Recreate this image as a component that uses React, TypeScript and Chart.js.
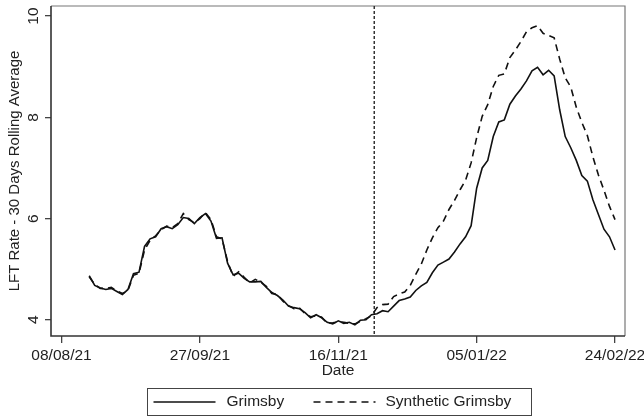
import React, { useEffect, useRef } from 'react';
import { Chart, registerables } from 'chart.js';

Chart.register(...registerables);

// Days are counted from 08/08/21
const seriesStartDay = 10;
const seriesStepDays = 2;

const grimsby = [
  4.87, 4.68, 4.63, 4.60, 4.62, 4.56, 4.50, 4.60, 4.91, 4.94,
  5.45, 5.60, 5.64, 5.80, 5.84, 5.80, 5.88, 6.02, 6.00, 5.90,
  6.02, 6.10, 5.95, 5.61, 5.62, 5.12, 4.89, 4.92, 4.82, 4.75,
  4.75, 4.76, 4.64, 4.54, 4.48, 4.39, 4.27, 4.24, 4.22, 4.14,
  4.04, 4.10, 4.04, 3.95, 3.92, 3.98, 3.93, 3.95, 3.90, 3.99,
  4.00, 4.10, 4.12, 4.18, 4.16, 4.27, 4.38, 4.41, 4.45, 4.58,
  4.67, 4.74, 4.93, 5.08, 5.14, 5.20, 5.34, 5.50, 5.64, 5.86,
  6.60, 7.00, 7.15, 7.62, 7.91, 7.95, 8.26, 8.42, 8.56, 8.72,
  8.92, 8.99, 8.84, 8.93, 8.82, 8.15, 7.62, 7.40, 7.15, 6.85,
  6.74, 6.37, 6.08, 5.79, 5.64, 5.38,
];

const syntheticGrimsby = [
  4.85, 4.70, 4.62, 4.62, 4.64, 4.57, 4.52, 4.58, 4.88, 4.92,
  5.38, 5.57, 5.66, 5.78, 5.85, 5.82, 5.90, 6.10, 5.98, 5.92,
  6.00, 6.12, 5.98, 5.64, 5.60, 5.15, 4.86, 4.95, 4.84, 4.73,
  4.80, 4.74, 4.66, 4.52, 4.50, 4.37, 4.28, 4.22, 4.23, 4.12,
  4.06, 4.08, 4.05, 3.93, 3.94, 3.96, 3.95, 3.93, 3.92, 3.97,
  4.02, 4.08, 4.24, 4.30, 4.31, 4.46, 4.51, 4.55, 4.68, 4.90,
  5.10, 5.38, 5.62, 5.82, 5.95, 6.18, 6.36, 6.57, 6.76, 7.10,
  7.60, 8.02, 8.25, 8.61, 8.83, 8.86, 9.18, 9.33, 9.50, 9.69,
  9.77, 9.81, 9.66, 9.62, 9.57, 9.15, 8.78, 8.60, 8.20, 7.90,
  7.64, 7.22, 6.86, 6.56, 6.24, 5.98,
];

const tickDays = [0, 50, 100, 150, 200];
const tickLabels = ['08/08/21', '27/09/21', '16/11/21', '05/01/22', '24/02/22'];
const yTicks = [4, 6, 8, 10];
const interventionDay = 113;
const seriesLabels = ['Grimsby', 'Synthetic Grimsby'];
const xTitle = 'Date';
const yTitle = 'LFT Rate - 30 Days Rolling Average';

const FONT = "'Liberation Sans', Arial, sans-serif";
const INK = '#222222';
const DASH = [7, 5];

const toPoints = (vals: number[]) =>
  vals.map((v, i) => ({ x: seriesStartDay + i * seriesStepDays, y: v }));

const framePlugin = {
  id: 'frame',
  beforeDatasetsDraw(chart: any) {
    const { ctx, chartArea: a } = chart;
    ctx.save();
    ctx.lineWidth = 1.2;
    ctx.strokeStyle = '#777777';
    ctx.beginPath();
    ctx.moveTo(a.left, a.top);
    ctx.lineTo(a.right, a.top);
    ctx.lineTo(a.right, a.bottom);
    ctx.stroke();
    ctx.lineWidth = 1.6;
    ctx.strokeStyle = '#333333';
    ctx.beginPath();
    ctx.moveTo(a.left, a.top);
    ctx.lineTo(a.left, a.bottom);
    ctx.lineTo(a.right, a.bottom);
    ctx.stroke();
    // intervention line
    const x = chart.scales.x.getPixelForValue(interventionDay);
    ctx.setLineDash([3, 2]);
    ctx.lineWidth = 1.5;
    ctx.strokeStyle = '#333333';
    ctx.beginPath();
    ctx.moveTo(x, a.top);
    ctx.lineTo(x, a.bottom);
    ctx.stroke();
    ctx.restore();
  },
};

const legendPlugin = {
  id: 'boxLegend',
  afterDraw(chart: any) {
    const { ctx, chartArea: a } = chart;
    const cx = (a.left + a.right) / 2;
    const left = Math.round(cx - 191) + 0.5;
    const top = Math.round(a.bottom + 52) + 0.5;
    const w = 384;
    const h = 27;
    const midY = top + 13.5;
    ctx.save();
    ctx.lineWidth = 1;
    ctx.strokeStyle = '#444444';
    ctx.strokeRect(left, top, w, h);
    ctx.font = `15.5px ${FONT}`;
    ctx.fillStyle = INK;
    ctx.textBaseline = 'middle';
    ctx.textAlign = 'left';
    const items = [
      { x0: 6, x1: 68, tx: 79, dash: [] as number[], label: seriesLabels[0] },
      { x0: 166, x1: 228, tx: 238, dash: DASH, label: seriesLabels[1] },
    ];
    items.forEach((it) => {
      ctx.setLineDash(it.dash);
      ctx.lineWidth = 1.6;
      ctx.strokeStyle = '#111111';
      ctx.beginPath();
      ctx.moveTo(left + it.x0, midY);
      ctx.lineTo(left + it.x1, midY);
      ctx.stroke();
      ctx.fillText(it.label, left + it.tx, midY);
    });
    ctx.restore();
  },
};

export default function App() {
  const ref = useRef<HTMLCanvasElement | null>(null);

  useEffect(() => {
    if (!ref.current) return;
    const chart = new Chart(ref.current, {
      type: 'line',
      data: {
        datasets: [
          {
            label: seriesLabels[0],
            data: toPoints(grimsby),
            borderColor: '#111111',
            borderWidth: 1.6,
            pointRadius: 0,
            tension: 0,
            fill: false,
          },
          {
            label: seriesLabels[1],
            data: toPoints(syntheticGrimsby),
            borderColor: '#111111',
            borderWidth: 1.6,
            borderDash: DASH,
            pointRadius: 0,
            tension: 0,
            fill: false,
          },
        ],
      },
      options: {
        animation: false,
        responsive: false,
        layout: { padding: { left: 0, top: 6, right: 19, bottom: 36 } },
        plugins: {
          legend: { display: false },
          tooltip: { enabled: false },
        },
        scales: {
          x: {
            type: 'linear',
            min: -3.8,
            max: 203.6,
            afterBuildTicks: (s: any) => {
              s.ticks = tickDays.map((v) => ({ value: v }));
            },
            afterFit: (s: any) => {
              s.height = 44;
              s.paddingLeft = 0;
              s.paddingRight = 0;
            },
            border: { display: false },
            grid: {
              display: true,
              drawOnChartArea: false,
              drawTicks: true,
              tickLength: 7,
              color: '#444444',
              lineWidth: 1.3,
            },
            ticks: {
              autoSkip: false,
              maxRotation: 0,
              minRotation: 0,
              padding: 3,
              color: INK,
              font: { family: FONT, size: 15.5 },
              callback: (v: any) => {
                const i = tickDays.indexOf(Number(v));
                return i >= 0 ? tickLabels[i] : '';
              },
            },
            title: {
              display: true,
              text: xTitle,
              color: INK,
              font: { family: FONT, size: 15.5 },
              padding: { top: 0, bottom: 0 },
            },
          },
          y: {
            type: 'linear',
            min: 3.68,
            max: 10.2,
            afterBuildTicks: (s: any) => {
              s.ticks = yTicks.map((v) => ({ value: v }));
            },
            afterFit: (s: any) => {
              s.width = 51;
              s.paddingTop = 0;
              s.paddingBottom = 0;
            },
            border: { display: false },
            grid: {
              display: true,
              drawOnChartArea: false,
              drawTicks: true,
              tickLength: 6,
              color: '#444444',
              lineWidth: 1.3,
            },
            ticks: {
              minRotation: 90,
              maxRotation: 90,
              crossAlign: 'center',
              padding: 3,
              color: INK,
              font: { family: FONT, size: 15.5 },
              callback: (v: any) => String(v),
            },
            title: {
              display: true,
              text: yTitle,
              color: INK,
              font: { family: FONT, size: 15 },
              padding: { top: 6, bottom: 0 },
            },
          },
        },
      },
      plugins: [framePlugin, legendPlugin],
    } as any);
    return () => chart.destroy();
  }, []);

  return (
    <div style={{ position: 'absolute', left: 0, top: 0, width: 644, height: 416, background: '#fff' }}>
      <canvas ref={ref} width={644} height={416} style={{ display: 'block', width: 644, height: 416 }} />
    </div>
  );
}
